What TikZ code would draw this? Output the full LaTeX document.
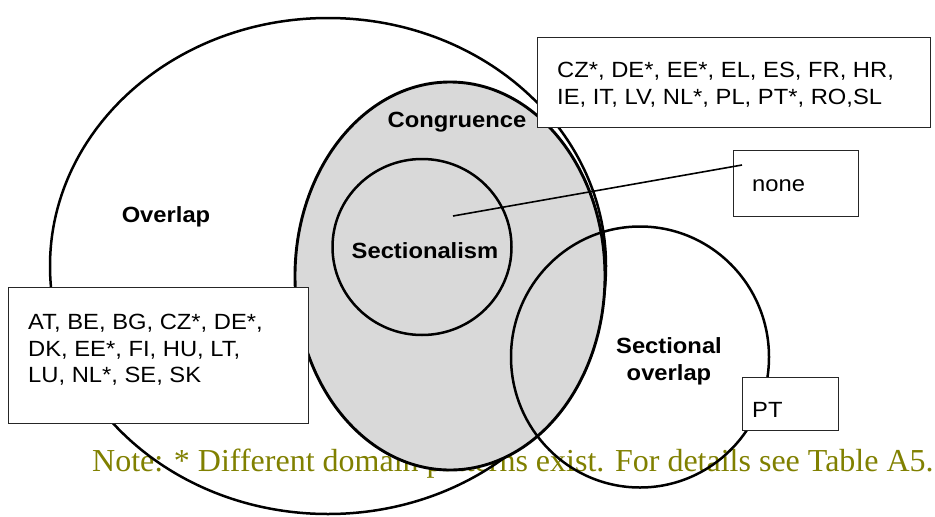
\documentclass[tikz,border=0pt]{standalone}
\usepackage{fontspec}
\setmainfont{Liberation Sans}
\newfontfamily\txtfont[FakeStretch=1.08]{Liberation Sans}
\newfontfamily\labfont[FakeStretch=1.08]{Liberation Sans}
\newfontfamily\notefont{Liberation Serif}
\usetikzlibrary{shapes.geometric}
\definecolor{noteolive}{RGB}{128,128,0}
\definecolor{congray}{RGB}{217,217,217}
\begin{document}
\begin{tikzpicture}[x=1pt,y=-1pt,
  setshape/.style={ellipse, draw=black, line width=2.5pt, inner sep=0pt},
  boxshape/.style={rectangle, draw=black!85, line width=1.4pt, fill=white, anchor=north west, inner sep=0pt},
  boxtext/.style={font=\txtfont\fontsize{22}{26.5}\selectfont, align=left, inner sep=0pt},
  lab/.style={font=\labfont\bfseries\fontsize{22}{22}\selectfont, align=center, anchor=base, inner sep=0pt},
]
\useasboundingbox (0,0) rectangle (935,517);
% note text (lies beneath the sets)
\node[font=\notefont\fontsize{32}{36}\selectfont, text=noteolive, anchor=base west, inner sep=0pt] (note) at (92,471)
  {Note: * Different domain patterns exist. For details see Table A5.};
% sets
\node[setshape, minimum width=556pt, minimum height=496pt] (overlap) at (328,266) {};
\node[setshape, fill=congray, line width=2.9pt, minimum width=310pt, minimum height=388pt] (congruence) at (450,276) {};
\node[setshape, minimum width=179pt, minimum height=176pt] (sectionalism) at (422,247) {};
\node[setshape, minimum width=258pt, minimum height=261pt] (secoverlap) at (640,357) {};
% boxes
\node[boxshape, minimum width=393pt, minimum height=90pt] (boxcong) at (537,37) {};
\node[boxtext, anchor=north west] (txtcong) at (557,62)
  {CZ*, DE*, EE*, EL, ES, FR, HR,\\IE, IT, LV, NL*, PL, PT*, RO,SL};
\node[boxshape, minimum width=125pt, minimum height=66pt] (boxnone) at (733,150) {};
\node[boxtext, anchor=base west] (txtnone) at (752,191) {none};
\node[boxshape, minimum width=300pt, minimum height=136pt] (boxover) at (8,287) {};
\node[boxtext, anchor=north west] (txtover) at (28,314)
  {AT, BE, BG, CZ*, DE*,\\DK, EE*, FI, HU, LT,\\LU, NL*, SE, SK};
\node[boxshape, minimum width=96pt, minimum height=53pt] (boxpt) at (742,377) {};
\node[boxtext, anchor=base west] (txtpt) at (752,417) {PT};
% connector
\coordinate (secpoint) at (453,216);
\coordinate (nonepoint) at (742,165);
\draw[line width=1.6pt] (secpoint) -- (nonepoint);
% labels
\node[lab] (labover) at (166,222) {Overlap};
\node[lab] (labcong) at (457,127) {Congruence};
\node[lab] (labsect) at (425,258) {Sectionalism};
\node[lab] (labsecov) at (669,380) {Sectional\\[5pt]overlap};
\end{tikzpicture}
\end{document}
